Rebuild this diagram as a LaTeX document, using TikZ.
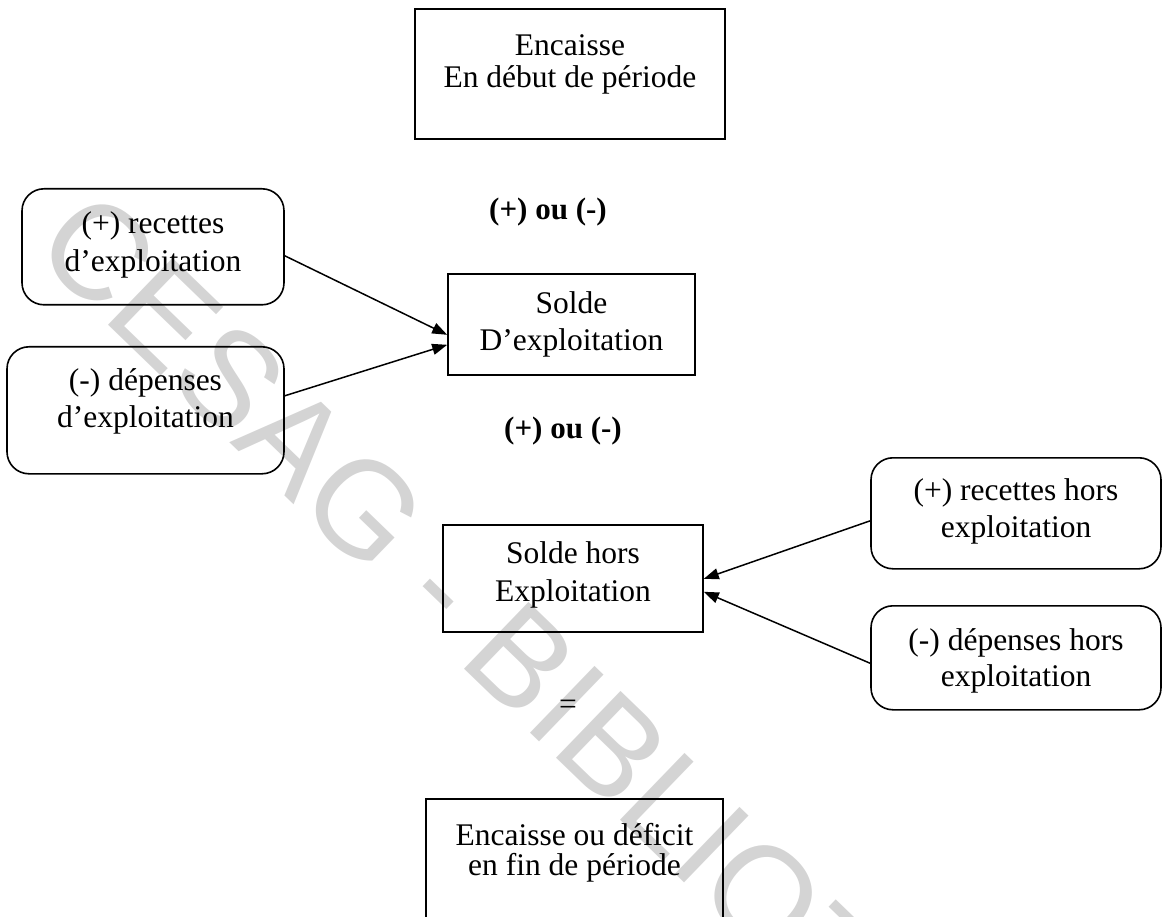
\documentclass[tikz,border=0pt]{standalone}
\usepackage{fontspec}
\setmainfont{Liberation Serif}
\newfontfamily\wmfont{Liberation Sans}
\usetikzlibrary{arrows.meta}
\begin{document}
\begin{tikzpicture}[x=1pt,y=-1pt,
  box/.style={draw,line width=1.6pt,inner xsep=0pt,inner ysep=0pt,align=center,anchor=north},
  rbox/.style={box,rounded corners=22pt},
  link/.style={line width=1.5pt,-{Triangle[length=15pt,width=11pt]}},
  txt/.style={font=\fontsize{31.5}{#1}\selectfont},
  op/.style={font=\fontsize{31}{36}\selectfont\bfseries,inner sep=0pt,anchor=base},
]
\useasboundingbox (0,0) rectangle (1165,917);

% library stamp behind the chart
\node[rotate=-44,anchor=base west,text=black!17,inner sep=0pt,
      font=\fontsize{135}{140}\selectfont\wmfont] (stamp) at (30,250) {CESAG - BIBLIOTHEQUE};

% opening balance
\node[box,txt=32,minimum width=310pt,text height=79pt,text depth=51pt] (debut) at (570,8)
  {Encaisse\\En début de période};

\node[op] (op1) at (548,220) {(+) ou (-)};

% operating flows
\node[rbox,txt=38,minimum width=262pt,text height=83pt,text depth=33pt] (rexp) at (153,188)
  {(+) recettes\\d’exploitation};
\node[rbox,txt=37,minimum width=277pt,text height=81pt,text depth=46pt] (dexp) at (145.5,346)
  {(-) dépenses\\d’exploitation};
\node[box,txt=37,minimum width=247pt,text height=77pt,text depth=24pt] (sexp) at (571.5,273)
  {Solde\\D’exploitation};

\node[op] (op2) at (563,438) {(+) ou (-)};

% non-operating flows
\node[box,txt=38,minimum width=260pt,text height=77pt,text depth=30pt] (shors) at (573,524)
  {Solde hors\\Exploitation};
\node[rbox,txt=37,minimum width=290pt,text height=80pt,text depth=31pt] (rhors) at (1016,457)
  {(+) recettes hors\\exploitation};
\node[rbox,txt=36,minimum width=290pt,text height=81pt,text depth=23pt] (dhors) at (1016,605)
  {(-) dépenses hors\\exploitation};

\node[txt=32,inner sep=0pt] (eq) at (568,707) {=};

% closing balance
\node[box,txt=30,minimum width=297pt,text height=77pt,text depth=200pt] (fin) at (574.5,798)
  {Encaisse ou déficit\\en fin de période};

% connectors
\draw[link] ([yshift=-9pt]rexp.east) -- ([yshift=-10.5pt]sexp.west);
\draw[link] ([yshift=14.5pt]dexp.east) -- ([yshift=-20.5pt]sexp.west);
\draw[link] ([yshift=-7.5pt]rhors.west) -- ([yshift=-0.5pt]shors.east);
\draw[link] ([yshift=-5.5pt]dhors.west) -- ([yshift=-13.5pt]shors.east);
\end{tikzpicture}
\end{document}
